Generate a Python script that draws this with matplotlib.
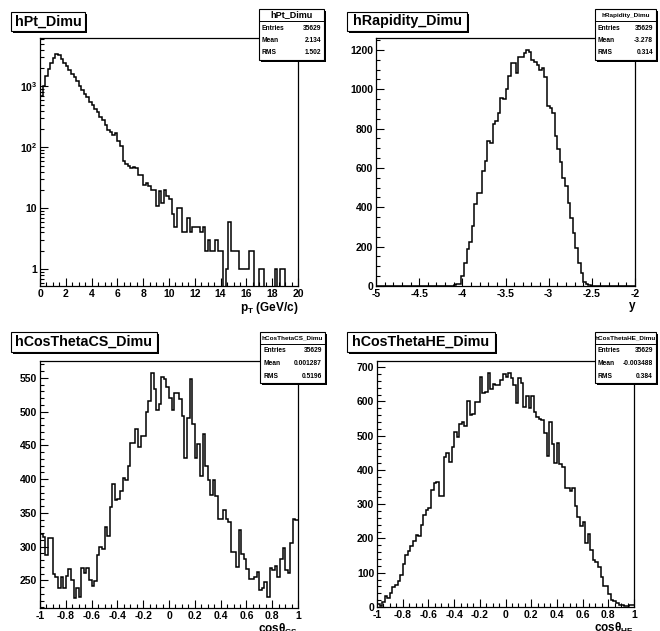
import numpy as np
import matplotlib
matplotlib.use("Agg")
import matplotlib.pyplot as plt
from matplotlib.patches import Rectangle
from matplotlib.lines import Line2D
from matplotlib.ticker import MultipleLocator, LogLocator, NullFormatter, FuncFormatter

plt.rcParams['font.family'] = ['Liberation Sans', 'DejaVu Sans']
plt.rcParams['font.weight'] = 'bold'
plt.rcParams['axes.labelweight'] = 'bold'
plt.rcParams['mathtext.fontset'] = 'custom'
plt.rcParams['mathtext.rm'] = 'Liberation Sans:bold'
plt.rcParams['mathtext.it'] = 'Liberation Sans:bold'
plt.rcParams['mathtext.bf'] = 'Liberation Sans:bold'

W, H = 660, 631

# histogram contents, 100 bins each
pt_counts = [700, 1000, 1450, 1900, 2450, 2950, 3350, 3250, 2850, 2450,
             2150, 1850, 1580, 1400, 1240, 1020, 880, 750, 660, 550,
             485, 430, 380, 315, 280, 235, 190, 180, 158, 170,
             128, 105, 59, 53, 50, 45, 47, 45, 35, 35,
             24, 26, 23, 20, 20, 11, 19, 12, 20, 16,
             14, 8, 5, 10, 10, 4, 4, 7, 4, 5,
             5, 5, 4, 5, 2, 3, 2, 2, 3, 2,
             2, 0, 1, 6, 2, 2, 2, 1, 1, 1,
             1, 2, 2, 0, 0, 1, 1, 0, 0, 0,
             0, 1, 0, 1, 1, 0, 0, 0, 0, 0]

rap_counts = [0] * 25 + [2, 0, 0, 0, 2,
              3, 10, 12, 51, 115, 190, 225, 305, 417, 475,
              475, 586, 637, 735, 725, 825, 840, 878, 954, 950,
              1000, 1068, 1132, 1132, 1081, 1163, 1163, 1183, 1200, 1192,
              1149, 1141, 1124, 1098, 1107, 1064, 915, 903, 878, 763,
              695, 632, 547, 508, 420, 344, 268, 192, 115, 64,
              22, 8, 3, 1, 0, 0, 0, 2, 0, 0,
              0, 0, 0, 0, 0, 0, 2, 0, 0, 0]

cs_counts = [318, 314, 287, 313, 313, 259, 255, 239, 255, 239,
             256, 267, 251, 224, 239, 225, 269, 261, 269, 250,
             241, 249, 287, 300, 297, 329, 315, 358, 393, 369,
             370, 382, 402, 398, 420, 454, 454, 474, 447, 464,
             464, 500, 516, 557, 533, 502, 511, 552, 548, 536,
             520, 502, 527, 527, 519, 494, 432, 491, 549, 481,
             432, 452, 404, 467, 420, 398, 377, 398, 375, 341,
             341, 354, 341, 336, 292, 292, 270, 324, 289, 282,
             267, 252, 252, 255, 262, 235, 238, 248, 226, 269,
             266, 271, 255, 281, 298, 265, 261, 305, 341, 339]

he_counts = [10, 3, 16, 33, 26, 41, 58, 65, 75, 94,
             126, 152, 162, 177, 194, 211, 208, 240, 269, 283,
             288, 342, 363, 366, 324, 324, 439, 450, 424, 468,
             512, 497, 534, 541, 528, 601, 560, 563, 599, 599,
             672, 625, 628, 682, 635, 652, 648, 648, 662, 679,
             672, 683, 667, 648, 594, 667, 654, 584, 615, 582,
             615, 570, 555, 548, 546, 507, 441, 541, 476, 421,
             478, 417, 410, 347, 347, 340, 347, 295, 264, 235,
             247, 186, 214, 167, 138, 130, 118, 87, 60, 60,
             39, 19, 17, 12, 7, 7, 4, 2, 7, 7]

names = ["hPt_Dimu", "hRapidity_Dimu", "hCosThetaCS_Dimu", "hCosThetaHE_Dimu"]
stats = [("35629", "2.134", "1.502"),
         ("35629", "-3.278", "0.314"),
         ("35629", "0.001287", "0.5196"),
         ("35629", "-0.003488", "0.384")]


def frac(x0, y0, x1, y1):
    return [x0 / W, 1 - y1 / H, (x1 - x0) / W, (y1 - y0) / H]


def box(fig, x0, y0, x1, y1, sh=2):
    fig.add_artist(Rectangle(((x0 + sh) / W, 1 - (y1 + sh) / H), (x1 - x0) / W, (y1 - y0) / H,
                             transform=fig.transFigure, facecolor='black', edgecolor='none', zorder=5))
    fig.add_artist(Rectangle((x0 / W, 1 - y1 / H), (x1 - x0) / W, (y1 - y0) / H,
                             transform=fig.transFigure, facecolor='white', edgecolor='black',
                             lw=0.8, zorder=6))


def nice(v, pos):
    v = round(v, 6)
    return '0' if v == 0 else '%g' % v


def style_axes(ax):
    ax.tick_params(which='both', direction='in', top=False, right=False,
                   labelsize=7.5, pad=2, width=0.8)
    ax.tick_params(which='major', length=6)
    ax.tick_params(which='minor', length=3)
    ax.xaxis.set_major_formatter(FuncFormatter(nice))
    for s in ax.spines.values():
        s.set_linewidth(0.9)


fig = plt.figure(figsize=(W / 100, H / 100), dpi=100)

# pT, log scale
ax = fig.add_axes(frac(40, 38, 298, 286))
edges = np.linspace(0, 20, len(pt_counts) + 1)
vals = np.array(pt_counts, dtype=float)
ax.stairs(np.where(vals > 0, vals, 1e-3), edges, baseline=None, color='black', lw=1.1)
ax.set_yscale('log')
ax.set_xlim(0, 20)
ax.set_ylim(0.53, 6200)
ax.set_yticks([1, 10, 100, 1000], ['1', '10', r'$10^{2}$', r'$10^{3}$'])
ax.yaxis.set_minor_locator(LogLocator(subs=np.arange(2, 10)))
ax.yaxis.set_minor_formatter(NullFormatter())
ax.xaxis.set_major_locator(MultipleLocator(2))
ax.xaxis.set_minor_locator(MultipleLocator(0.5))
style_axes(ax)
ax.set_xlabel(r'$p_{T}$ (GeV/c)', loc='right', fontsize=8.5, labelpad=1)

# rapidity
ax = fig.add_axes(frac(376, 38, 635, 286))
ax.stairs(rap_counts, np.linspace(-5, -2, len(rap_counts) + 1), baseline=None, color='black', lw=1.1)
ax.set_xlim(-5, -2)
ax.set_ylim(0, 1261)
ax.xaxis.set_major_locator(MultipleLocator(0.5))
ax.xaxis.set_minor_locator(MultipleLocator(0.1))
ax.yaxis.set_major_locator(MultipleLocator(200))
ax.yaxis.set_minor_locator(MultipleLocator(50))
style_axes(ax)
ax.set_xlabel('y', loc='right', fontsize=8.5, labelpad=1)

# cos theta CS
ax = fig.add_axes(frac(40, 361, 298, 608))
ax.stairs(cs_counts, np.linspace(-1, 1, len(cs_counts) + 1), baseline=None, color='black', lw=1.1)
ax.set_xlim(-1, 1)
ax.set_ylim(209, 575)
ax.xaxis.set_major_locator(MultipleLocator(0.2))
ax.xaxis.set_minor_locator(MultipleLocator(0.05))
ax.yaxis.set_major_locator(MultipleLocator(50))
ax.yaxis.set_minor_locator(MultipleLocator(10))
style_axes(ax)
ax.set_xlabel(r'cos$\theta_{CS}$', loc='right', fontsize=8.5, labelpad=1)

# cos theta HE
ax = fig.add_axes(frac(377, 361, 634, 607))
ax.stairs(he_counts, np.linspace(-1, 1, len(he_counts) + 1), baseline=None, color='black', lw=1.1)
ax.set_xlim(-1, 1)
ax.set_ylim(0, 718)
ax.xaxis.set_major_locator(MultipleLocator(0.2))
ax.xaxis.set_minor_locator(MultipleLocator(0.05))
ax.yaxis.set_major_locator(MultipleLocator(100))
ax.yaxis.set_minor_locator(MultipleLocator(20))
style_axes(ax)
ax.set_xlabel(r'cos$\theta_{HE}$', loc='right', fontsize=8.5, labelpad=1)

# title boxes
title_boxes = [(11, 12, 85, 31), (347, 12, 467, 31), (11, 332, 157, 352), (347, 332, 495, 352)]
for name, (x0, y0, x1, y1) in zip(names, title_boxes):
    box(fig, x0, y0, x1, y1)
    fig.text((x0 + x1) / 2 / W, 1 - (y0 + y1) / 2 / H, name, ha='center', va='center',
             fontsize=10.3, zorder=7)

# stat boxes
stat_boxes = [(259, 9, 324, 60), (595, 9, 656, 60), (260, 332, 325, 383), (595, 332, 656, 383)]
for name, st, (x0, y0, x1, y1) in zip(names, stats, stat_boxes):
    box(fig, x0, y0, x1, y1)
    sep = y0 + 12
    fig.add_artist(Line2D([x0 / W, x1 / W], [1 - sep / H, 1 - sep / H], transform=fig.transFigure,
                          color='black', lw=0.7, zorder=7))
    tsize = 6.5 if len(name) < 12 else 4.6
    fig.text((x0 + x1) / 2 / W, 1 - (y0 + 6) / H, name, ha='center', va='center',
             fontsize=tsize, zorder=7)
    for i, (lab, v) in enumerate(zip(["Entries", "Mean", "RMS"], st)):
        yy = 1 - (sep + 7 + i * 12.5) / H
        fig.text((x0 + 3) / W, yy, lab, ha='left', va='center', fontsize=4.8, zorder=7)
        fig.text((x1 - 3) / W, yy, v, ha='right', va='center', fontsize=4.8, zorder=7)

fig.savefig("out.png", dpi=100)
